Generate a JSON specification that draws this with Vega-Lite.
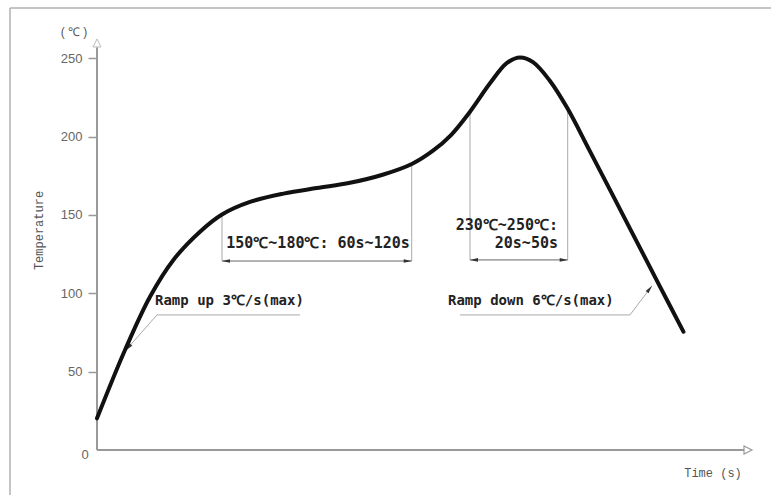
{
  "$schema": "https://vega.github.io/schema/vega-lite/v6.json",
  "width": 761,
  "height": 487,
  "autosize": {"type": "none"},
  "padding": {"left": 10, "top": 8, "right": 0, "bottom": 0},
  "background": "white",
  "config": {"view": {"stroke": null}},
  "datasets": {
    "curve": [
      {"t": 0, "v": 20.2}, {"t": 14, "v": 63.8}, {"t": 26.5, "v": 97.8}, {"t": 38.2, "v": 121.3},
      {"t": 51.5, "v": 139.3}, {"t": 62.5, "v": 150.3}, {"t": 76.5, "v": 158.3}, {"t": 93.2, "v": 163.6},
      {"t": 109.9, "v": 167.2}, {"t": 126.5, "v": 170.5}, {"t": 143.2, "v": 175.8}, {"t": 157.4, "v": 182.5},
      {"t": 168, "v": 191.0}, {"t": 177, "v": 201.0}, {"t": 186.5, "v": 215.9}, {"t": 196.5, "v": 234.0},
      {"t": 205, "v": 247.0}, {"t": 211.5, "v": 250.5}, {"t": 218, "v": 247.5}, {"t": 226.5, "v": 235.5},
      {"t": 235, "v": 218.5}, {"t": 246.5, "v": 190.6}, {"t": 266.5, "v": 141.3}, {"t": 281.5, "v": 104.3},
      {"t": 293.2, "v": 75.5}
    ],
    "frame": [
      {"t": -43.5, "v": -28.72, "t2": -43.5, "v2": 282.07},
      {"t": -43.5, "v": 282.07, "t2": 337, "v2": 282.07}
    ],
    "axes": [
      {"t": 0, "v": 0, "t2": 0, "v2": 257},
      {"t": 0, "v": 0, "t2": 323.5, "v2": 0}
    ],
    "guides": [
      {"t": 62.5, "v": 150.3, "t2": 62.5, "v2": 120.6},
      {"t": 157.35, "v": 182.5, "t2": 157.35, "v2": 120.6},
      {"t": 186.5, "v": 215.9, "t2": 186.5, "v2": 121.3},
      {"t": 235.35, "v": 218.0, "t2": 235.35, "v2": 121.3},
      {"t": 30, "v": 86.2, "t2": 101.5, "v2": 86.2},
      {"t": 30, "v": 86.2, "t2": 14.3, "v2": 63.5},
      {"t": 181.5, "v": 86.2, "t2": 266.5, "v2": 86.2},
      {"t": 266.5, "v": 86.2, "t2": 277.5, "v2": 104.8}
    ],
    "spans": [
      {"t": 62.5, "v": 120.6, "t2": 157.35, "v2": 120.6},
      {"t": 186.5, "v": 121.3, "t2": 235.35, "v2": 121.3}
    ],
    "spanStarts": [{"t": 62.5, "v": 120.6}, {"t": 186.5, "v": 121.3}],
    "spanEnds": [{"t": 157.35, "v": 120.6}, {"t": 235.35, "v": 121.3}],
    "rampUpTip": [{"t": 14.3, "v": 63.5}],
    "rampDownTip": [{"t": 277.5, "v": 104.8}],
    "yAxisTip": [{"t": 0, "v": 262.3}],
    "xAxisTip": [{"t": 327.5, "v": 0}],
    "centerLabels": [{"t": 110.5, "v": 132.3, "label": "150℃~180℃: 60s~120s"}],
    "rightLabels": [
      {"t": 230.5, "v": 143.6, "label": "230℃~250℃:"},
      {"t": 230.5, "v": 132.3, "label": "20s~50s"}
    ],
    "rampLabels": [
      {"t": 29, "v": 95.4, "label": "Ramp up 3℃/s(max)"},
      {"t": 175.5, "v": 95.4, "label": "Ramp down 6℃/s(max)"}
    ],
    "zeroLabel": [{"t": -6, "v": -3.2, "label": "0"}],
    "unitLabel": [{"t": -11.5, "v": 266.7, "label": "( ℃ )"}]
  },
  "encoding": {
    "x": {
      "field": "t", "type": "quantitative",
      "scale": {"domain": [-43.5, 337], "nice": false, "zero": false},
      "axis": {
        "orient": "bottom", "offset": -45, "domain": false, "ticks": false, "labels": false, "grid": false,
        "title": "Time (s)", "titleX": 702.5, "titleY": 22.7, "titleAlign": "center", "titleBaseline": "middle",
        "titleFont": "Liberation Mono", "titleFontSize": 12, "titleFontWeight": "normal", "titleColor": "#555"
      }
    },
    "y": {
      "field": "v", "type": "quantitative",
      "scale": {"domain": [-28.72, 282.07], "nice": false, "zero": false},
      "axis": {
        "orient": "left", "offset": -87, "domain": false, "grid": false,
        "values": [50, 100, 150, 200, 250],
        "tickSize": 9, "tickColor": "#999", "tickWidth": 1.5,
        "labelPadding": 6, "labelFont": "Liberation Sans", "labelFontSize": 13, "labelColor": "#666",
        "title": "Temperature", "titleX": -59, "titleY": 222, "titleAngle": -90,
        "titleAlign": "center", "titleBaseline": "middle",
        "titleFont": "Liberation Mono", "titleFontSize": 12, "titleFontWeight": "normal", "titleColor": "#555"
      }
    }
  },
  "layer": [
    {"data": {"name": "frame"}, "mark": {"type": "rule", "color": "#b0b0b0", "strokeWidth": 1.5},
     "encoding": {"x2": {"field": "t2"}, "y2": {"field": "v2"}}},
    {"data": {"name": "axes"}, "mark": {"type": "rule", "color": "#999", "strokeWidth": 2},
     "encoding": {"x2": {"field": "t2"}, "y2": {"field": "v2"}}},
    {"data": {"name": "yAxisTip"}, "mark": {"type": "point", "shape": "M0,0L-1,2L1,2Z", "size": 64, "filled": false, "stroke": "#bbb", "strokeWidth": 1, "opacity": 1, "angle": 0}, "encoding": {}},
    {"data": {"name": "xAxisTip"}, "mark": {"type": "point", "shape": "M0,0L-1,2L1,2Z", "size": 64, "filled": false, "stroke": "#999", "strokeWidth": 1.2, "opacity": 1, "angle": 90}, "encoding": {}},
    {"data": {"name": "guides"}, "mark": {"type": "rule", "color": "#aaa", "strokeWidth": 1},
     "encoding": {"x2": {"field": "t2"}, "y2": {"field": "v2"}}},
    {"data": {"name": "spans"}, "mark": {"type": "rule", "color": "#666", "strokeWidth": 1},
     "encoding": {"x2": {"field": "t2"}, "y2": {"field": "v2"}}},
    {"data": {"name": "spanStarts"}, "mark": {"type": "point", "shape": "M0,0L-0.45,2L0.45,2Z", "size": 64, "filled": true, "color": "#333", "opacity": 1, "angle": 270}, "encoding": {}},
    {"data": {"name": "spanEnds"}, "mark": {"type": "point", "shape": "M0,0L-0.45,2L0.45,2Z", "size": 64, "filled": true, "color": "#333", "opacity": 1, "angle": 90}, "encoding": {}},
    {"data": {"name": "rampUpTip"}, "mark": {"type": "point", "shape": "M0,0L-0.45,2L0.45,2Z", "size": 64, "filled": true, "color": "#333", "opacity": 1, "angle": 222}, "encoding": {}},
    {"data": {"name": "rampDownTip"}, "mark": {"type": "point", "shape": "M0,0L-0.45,2L0.45,2Z", "size": 64, "filled": true, "color": "#333", "opacity": 1, "angle": 37.5}, "encoding": {}},
    {"data": {"name": "curve"}, "mark": {"type": "line", "interpolate": "catmull-rom", "color": "#111", "strokeWidth": 4, "strokeCap": "round"}, "encoding": {}},
    {"data": {"name": "centerLabels"}, "mark": {"type": "text", "align": "center", "baseline": "middle", "font": "DejaVu Sans Mono", "fontSize": 15, "fontWeight": "bold", "color": "#222"},
     "encoding": {"text": {"field": "label"}}},
    {"data": {"name": "rightLabels"}, "mark": {"type": "text", "align": "right", "baseline": "middle", "font": "DejaVu Sans Mono", "fontSize": 15, "fontWeight": "bold", "color": "#222"},
     "encoding": {"text": {"field": "label"}}},
    {"data": {"name": "rampLabels"}, "mark": {"type": "text", "align": "left", "baseline": "middle", "font": "DejaVu Sans Mono", "fontSize": 14, "fontWeight": "bold", "color": "#222"},
     "encoding": {"text": {"field": "label"}}},
    {"data": {"name": "zeroLabel"}, "mark": {"type": "text", "align": "center", "baseline": "middle", "font": "Liberation Sans", "fontSize": 13, "color": "#666"},
     "encoding": {"text": {"field": "label"}}},
    {"data": {"name": "unitLabel"}, "mark": {"type": "text", "align": "center", "baseline": "middle", "font": "Liberation Sans", "fontSize": 12, "color": "#555"},
     "encoding": {"text": {"field": "label"}}}
  ]
}
